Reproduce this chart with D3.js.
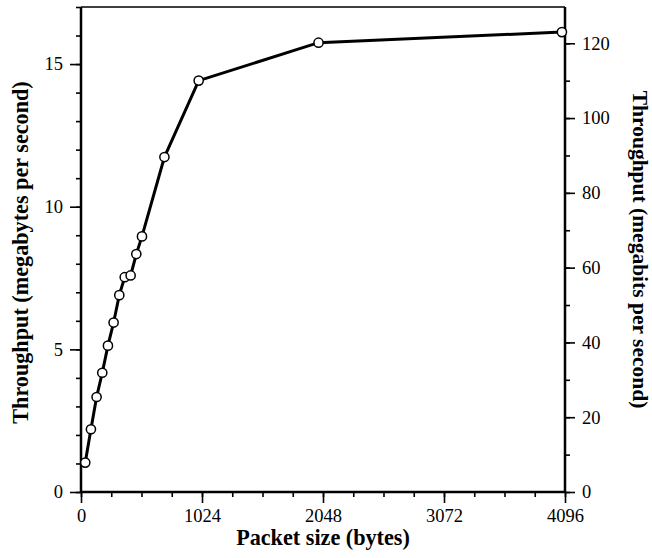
<!DOCTYPE html>
<html>
<head>
<meta charset="utf-8">
<script src="https://cdn.jsdelivr.net/npm/d3@7"></script>
<style>
  body { margin: 0; background: #fff; }
</style>
</head>
<body>
<svg id="chart"></svg>
<script>
// Data
const packetSizes = [36, 84, 132, 180, 228, 276, 324, 370, 420, 468, 516, 706, 996, 2010, 4070];
const throughputMB = [1.03, 2.2, 3.33, 4.18, 5.13, 5.94, 6.9, 7.53, 7.59, 8.34, 8.96, 11.74, 14.42, 15.75, 16.12];
const xTicks = [0, 1024, 2048, 3072, 4096];
const leftTicks = [0, 5, 10, 15];
const rightTicks = [0, 20, 40, 60, 80, 100, 120];

const W = 652, H = 558;
const margin = { top: 7, right: 87, bottom: 66, left: 81 };
const width = W - margin.left - margin.right;
const height = H - margin.top - margin.bottom;
const serif = "Liberation Serif";

const svg = d3.select("#chart")
  .attr("width", W)
  .attr("height", H)
  .append("g")
  .attr("transform", "translate(" + margin.left + "," + margin.top + ")");

const x = d3.scaleLinear().domain([0, 4096]).range([0, width]);
const y = d3.scaleLinear().domain([0, 17]).range([height, 0]);
// megabits: MB (2^20 bytes) vs Mb (10^6 bits) gives the right-hand range
const y2 = d3.scaleLinear().domain([0, 17 * 8 * 1e6 / 1048576]).range([height, 0]);

// minor ticks first
svg.append("g")
  .attr("transform", "translate(0," + height + ")")
  .call(d3.axisBottom(x).tickValues(d3.range(0, 4097, 256)).tickSize(5).tickFormat(""));
svg.append("g")
  .call(d3.axisLeft(y).tickValues(d3.range(0, 18, 1)).tickSize(5).tickFormat(""));
svg.append("g")
  .attr("transform", "translate(" + width + ",0)")
  .call(d3.axisRight(y2).tickValues(d3.range(0, 130, 10)).tickSize(5).tickFormat(""));

// major ticks
svg.append("g")
  .attr("class", "axis")
  .attr("transform", "translate(0," + height + ")")
  .call(d3.axisBottom(x).tickValues(xTicks).tickSize(11).tickPadding(6).tickFormat(d3.format("d")));
svg.append("g")
  .attr("class", "axis")
  .call(d3.axisLeft(y).tickValues(leftTicks).tickSize(11).tickPadding(7));
svg.append("g")
  .attr("class", "axis")
  .attr("transform", "translate(" + width + ",0)")
  .call(d3.axisRight(y2).tickValues(rightTicks).tickSize(10).tickPadding(7));

svg.selectAll(".domain").remove();
svg.selectAll(".tick line").attr("stroke", "#000").attr("stroke-width", 1.6);
svg.selectAll(".axis")
  .attr("font-family", serif)
  .attr("font-size", 18.5);
svg.selectAll(".axis text").attr("fill", "#000").attr("font-family", serif);

// frame
svg.append("line").attr("x1", 0).attr("x2", width).attr("y1", 0).attr("y2", 0)
  .attr("stroke", "#000").attr("stroke-width", 1.5);
svg.append("line").attr("x1", 0).attr("x2", width).attr("y1", height).attr("y2", height)
  .attr("stroke", "#000").attr("stroke-width", 2.5);
svg.append("line").attr("x1", 0).attr("x2", 0).attr("y1", 0).attr("y2", height)
  .attr("stroke", "#000").attr("stroke-width", 2.5);
svg.append("line").attr("x1", width).attr("x2", width).attr("y1", 0).attr("y2", height)
  .attr("stroke", "#000").attr("stroke-width", 2.5);

// line and points
const data = packetSizes.map((p, i) => [p, throughputMB[i]]);
svg.append("path")
  .datum(data)
  .attr("fill", "none")
  .attr("stroke", "#000")
  .attr("stroke-width", 3)
  .attr("d", d3.line().x(d => x(d[0])).y(d => y(d[1])));

svg.selectAll(".pt")
  .data(data)
  .enter()
  .append("circle")
  .attr("class", "pt")
  .attr("cx", d => x(d[0]))
  .attr("cy", d => y(d[1]))
  .attr("r", 4.6)
  .attr("fill", "#fff")
  .attr("stroke", "#000")
  .attr("stroke-width", 1.5);

// axis titles
svg.append("text")
  .attr("x", width / 2)
  .attr("y", height + 53)
  .attr("text-anchor", "middle")
  .attr("font-family", serif)
  .attr("font-size", 22.2)
  .attr("font-weight", "bold")
  .text("Packet size (bytes)");

svg.append("text")
  .attr("transform", "rotate(-90)")
  .attr("x", -height / 2 - 3)
  .attr("y", -53)
  .attr("text-anchor", "middle")
  .attr("font-family", serif)
  .attr("font-size", 22.2)
  .attr("font-weight", "bold")
  .text("Throughput (megabytes per second)");

svg.append("text")
  .attr("transform", "translate(" + (width + 68) + "," + (height / 2) + ") rotate(90)")
  .attr("text-anchor", "middle")
  .attr("font-family", serif)
  .attr("font-size", 21.5)
  .attr("font-weight", "bold")
  .text("Throughput (megabits per second)");
</script>
</body>
</html>
